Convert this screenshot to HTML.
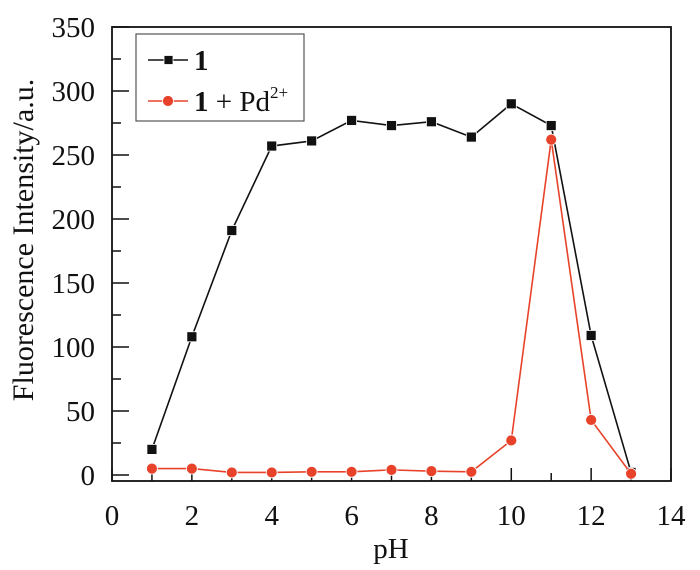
<!DOCTYPE html>
<html><head><meta charset="utf-8"><style>
body{margin:0;background:#fff}
svg text{font-family:"Liberation Serif",serif;fill:#111}
</style></head><body>
<svg id="chart" width="700" height="565" xmlns="http://www.w3.org/2000/svg">
<g id="axes"></g>
<g id="series"></g>
<g>
<rect x="136" y="34" width="168" height="87" fill="#fff" stroke="#555" stroke-width="1.2"/>
<g>
<line x1="148" y1="60" x2="188" y2="60" stroke="#111" stroke-width="1.5"/>
<rect x="164" y="55.5" width="9" height="9" fill="#111" stroke="#fff" stroke-width="0.8"/>
<text x="194" y="70" font-size="29" font-weight="bold">1</text>
</g>
<g>
<line x1="148" y1="101" x2="188" y2="101" stroke="#e8432a" stroke-width="1.5"/>
<circle cx="168" cy="101" r="5.5" fill="#e8432a" stroke="#fff" stroke-width="0.8"/>
<text x="194" y="111" font-size="29"><tspan font-weight="bold">1</tspan> + Pd<tspan dy="-13" font-size="17">2+</tspan></text>
</g>
</g>
</svg>
<script>
const phValues=[1,2,3,4,5,6,7,8,9,10,11,12,13];
const seriesProbe=[20,108,191,257,261,277,273,276,264,290,273,109,2];
const seriesProbePd=[5,5,2,2,2.5,2.5,4,3,2.5,27,262,43,1];
const xTicks=[0,2,4,6,8,10,12,14];
const yTicks=[0,50,100,150,200,250,300,350];
const NS="http://www.w3.org/2000/svg";
const L=112,R=671,T=27,B=481;
const X=v=>L+(v-0)/14*(R-L);
const Y=v=>475-v/350*(475-27);
function mk(tag,attrs,parent){const e=document.createElementNS(NS,tag);for(const k in attrs)e.setAttribute(k,attrs[k]);parent.appendChild(e);return e;}
const ax=document.getElementById('axes');
const frame=mk('rect',{x:L,y:T,width:R-L,height:B-T,fill:'none',stroke:'#111','stroke-width':1.8},ax);


for(let v=0;v<=14;v++){
  const major=v%2===0;
  const t=mk('line',{x1:X(v),x2:X(v),y1:B,y2:B-(major?13:8),stroke:'#111','stroke-width':1.5},ax);
  
  
}
xTicks.forEach(v=>{
  const t=mk('text',{x:X(v),y:525,'font-size':29,'text-anchor':'middle'},ax);t.textContent=v;
  
  
});
for(let v=0;v<=350;v+=25){
  const major=v%50===0;
  const t=mk('line',{x1:L,x2:L+(major?17:9),y1:Y(v),y2:Y(v),stroke:'#111','stroke-width':1.5},ax);
  
  
}
yTicks.forEach(v=>{
  const t=mk('text',{x:95,y:Y(v)+10,'font-size':29,'text-anchor':'end'},ax);t.textContent=v;
  
  
});
const xt=mk('text',{x:391,y:558,'font-size':29,'text-anchor':'middle'},ax);xt.textContent='pH';


const yt=mk('text',{x:0,y:0,'font-size':30,'text-anchor':'middle',transform:'translate(33,240) rotate(-90)'},ax);yt.textContent='Fluorescence Intensity/a.u.';


const sg=document.getElementById('series');
function drawSeries(vals,color,shape,name){
  const pts=vals.map((v,i)=>X(phValues[i])+','+Y(v)).join(' ');
  const pl=mk('polyline',{points:pts,fill:'none',stroke:color,'stroke-width':1.6},sg);
  
  
  vals.forEach((v,i)=>{
    let m;
    if(shape==='sq') m=mk('rect',{x:X(phValues[i])-5,y:Y(v)-5,width:10,height:10,fill:color,stroke:'#fff','stroke-width':0.8},sg);
    else m=mk('circle',{cx:X(phValues[i]),cy:Y(v),r:5.5,fill:color,stroke:'#fff','stroke-width':0.8},sg);
    
    
  });
}
drawSeries(seriesProbe,'#111','sq','probe');
drawSeries(seriesProbePd,'#e8432a','ci','probe-pd');
</script>
</body></html>
